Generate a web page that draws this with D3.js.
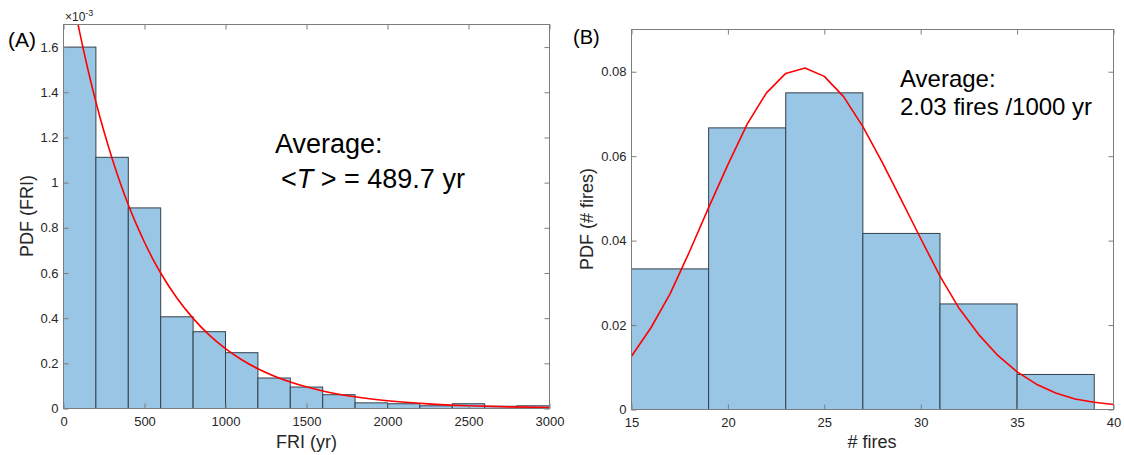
<!DOCTYPE html>
<html>
<head>
<meta charset="utf-8">
<script src="https://cdn.jsdelivr.net/npm/d3@7"></script>
<style>
  html, body { margin: 0; padding: 0; background: #fff; }
  svg { display: block; font-family: "Liberation Sans", Arial, Helvetica, sans-serif; }
</style>
</head>
<body>
<svg id="chart" width="1124" height="455"></svg>
<script>
// ---------- Panel A data: fire return interval histogram ----------
const friBinEdges = [0, 200, 400, 600, 800, 1000, 1200, 1400, 1600, 1800, 2000, 2200, 2400, 2600, 2800, 3000];
const friPdf = [0.001600, 0.001112, 0.000888, 0.000406, 0.000340, 0.000247, 0.000135, 0.000095,
                0.000061, 0.000025, 0.000021, 0.000012, 0.000021, 0.000010, 0.000012];
// red fitted curve
const friCurveT = [88, 100, 150, 200, 250, 300, 350, 400, 450, 500, 550, 600, 700, 800, 900, 1000, 1100, 1200, 1400, 1600, 1800, 2000, 2250, 2500, 2750, 3000];
const friCurveP = [0.001707, 0.001665, 0.001503, 0.001357, 0.001226, 0.001107, 0.000999, 0.000902, 0.000815,
                   0.000736, 0.000664, 0.000600, 0.000489, 0.000399, 0.000325, 0.000265, 0.000216, 0.000176,
                   0.000117, 0.0000778, 0.0000517, 0.0000344, 0.0000206, 0.0000124, 0.0000074, 0.0000045];
const friXTicks = [0, 500, 1000, 1500, 2000, 2500, 3000];
const friXTickLabels = ["0", "500", "1000", "1500", "2000", "2500", "3000"];
const friYTicks = [0, 0.0002, 0.0004, 0.0006, 0.0008, 0.0010, 0.0012, 0.0014, 0.0016];
const friYTickLabels = ["0", "0.2", "0.4", "0.6", "0.8", "1", "1.2", "1.4", "1.6"];

// ---------- Panel B data: number of fires histogram ----------
const fireBinEdges = [15, 19, 23, 27, 31, 35, 39];
const firePdf = [0.0333, 0.0667, 0.0750, 0.0417, 0.0250, 0.0083];
const fireCurveN = [15, 16, 17, 18, 19, 20, 21, 22, 23, 24, 25, 26, 27, 28, 29, 30, 31, 32, 33, 34, 35, 36, 37, 38, 39, 40];
const fireCurveP = [0.0126, 0.0193, 0.0274, 0.0373, 0.0478, 0.0580, 0.0676, 0.0750, 0.0796, 0.0809, 0.0789, 0.0741,
                    0.0670, 0.0586, 0.0496, 0.0405, 0.0316, 0.0239, 0.0178, 0.0128, 0.0089, 0.0060, 0.0039, 0.0025, 0.0017, 0.0012];
const fireXTicks = [15, 20, 25, 30, 35, 40];
const fireXTickLabels = ["15", "20", "25", "30", "35", "40"];
const fireYTicks = [0, 0.02, 0.04, 0.06, 0.08];
const fireYTickLabels = ["0", "0.02", "0.04", "0.06", "0.08"];

const svg = d3.select("#chart");
const BAR_FILL = "#9ac6e5";
const BAR_EDGE = "#33414d";
const AXIS_COL = "#7d7d7d";
const TEXT_COL = "#262626";

function panel(opts) {
  const { x, y, edges, pdf, cx, cy, xTicks, xLabels, yTicks, yLabels, clipId, curve } = opts;
  const g = svg.append("g");
  const [x0, x1] = x.range();
  const [y0, y1] = y.range(); // y0 bottom, y1 top

  g.append("clipPath").attr("id", clipId)
    .append("rect").attr("x", x0).attr("y", y1).attr("width", x1 - x0).attr("height", y0 - y1);

  // bars
  g.append("g").selectAll("rect").data(pdf).join("rect")
    .attr("x", (d, i) => x(edges[i]))
    .attr("width", (d, i) => x(edges[i + 1]) - x(edges[i]))
    .attr("y", d => y(d))
    .attr("height", d => y(0) - y(d))
    .attr("fill", BAR_FILL)
    .attr("stroke", BAR_EDGE)
    .attr("stroke-width", 1);

  // curve
  const pts = cx.map((v, i) => [v, cy[i]]);
  g.append("path").datum(pts)
    .attr("clip-path", `url(#${clipId})`)
    .attr("fill", "none").attr("stroke", "#ff0000").attr("stroke-width", 1.6)
    .attr("stroke-linejoin", "round")
    .attr("d", d3.line().curve(curve).x(d => x(d[0])).y(d => y(d[1])));

  // axes (ticks inside, box)
  const fmtX = (d) => xLabels[xTicks.indexOf(d)];
  const fmtY = (d) => yLabels[yTicks.indexOf(d)];
  const bottom = g.append("g").attr("transform", `translate(0,${y0})`)
    .call(d3.axisBottom(x).tickValues(xTicks).tickFormat(fmtX).tickSize(-5).tickPadding(8));
  const top = g.append("g").attr("transform", `translate(0,${y1})`)
    .call(d3.axisTop(x).tickValues(xTicks).tickFormat("").tickSize(-5));
  const left = g.append("g").attr("transform", `translate(${x0},0)`)
    .call(d3.axisLeft(y).tickValues(yTicks).tickFormat(fmtY).tickSize(-5).tickPadding(5));
  const right = g.append("g").attr("transform", `translate(${x1},0)`)
    .call(d3.axisRight(y).tickValues(yTicks).tickFormat("").tickSize(-5));
  [bottom, top, left, right].forEach(a => {
    a.select(".domain").remove();
    a.selectAll(".tick line").attr("stroke", AXIS_COL);
    a.selectAll(".tick text").attr("fill", TEXT_COL).attr("font-size", 13)
      .attr("font-family", '"Liberation Sans", Arial, sans-serif');
  });
  g.append("rect").attr("x", x0).attr("y", y1).attr("width", x1 - x0).attr("height", y0 - y1)
    .attr("fill", "none").attr("stroke", AXIS_COL).attr("stroke-width", 1);
  return g;
}

// ---------- Panel A ----------
const xA = d3.scaleLinear().domain([0, 3000]).range([63.5, 549.5]);
const yA = d3.scaleLinear().domain([0, 0.0017]).range([408.5, 24.5]);
panel({ x: xA, y: yA, edges: friBinEdges, pdf: friPdf, cx: friCurveT, cy: friCurveP, curve: d3.curveMonotoneX,
        xTicks: friXTicks, xLabels: friXTickLabels, yTicks: friYTicks, yLabels: friYTickLabels, clipId: "clipA" });

// ---------- Panel B ----------
const xB = d3.scaleLinear().domain([15, 40]).range([631.5, 1113.5]);
const yB = d3.scaleLinear().domain([0, 0.09]).range([409.5, 29.5]);
panel({ x: xB, y: yB, edges: fireBinEdges, pdf: firePdf, cx: fireCurveN, cy: fireCurveP, curve: d3.curveLinear,
        xTicks: fireXTicks, xLabels: fireXTickLabels, yTicks: fireYTicks, yLabels: fireYTickLabels, clipId: "clipB" });

// ---------- Texts ----------
// exponent label
const ex = svg.append("text").attr("x", 65).attr("y", 21).attr("fill", TEXT_COL).attr("font-size", 12);
ex.append("tspan").text("×10");
ex.append("tspan").attr("font-size", 9).attr("dy", -5).text("-3");

// axis labels
svg.append("text").attr("x", 306.5).attr("y", 448).attr("text-anchor", "middle")
  .attr("font-size", 18).attr("fill", TEXT_COL).text("FRI (yr)");
svg.append("text").attr("x", 872).attr("y", 448).attr("text-anchor", "middle")
  .attr("font-size", 18).attr("fill", TEXT_COL).text("# fires");
svg.append("text").attr("transform", "translate(33,216) rotate(-90)").attr("text-anchor", "middle")
  .attr("font-size", 18).attr("fill", TEXT_COL).text("PDF (FRI)");
svg.append("text").attr("transform", "translate(593,219) rotate(-90)").attr("text-anchor", "middle")
  .attr("font-size", 18).attr("fill", TEXT_COL).text("PDF (# fires)");

// panel letters
svg.append("text").attr("x", 8).attr("y", 47).attr("font-size", 21).attr("fill", "#000").text("(A)");
svg.append("text").attr("x", 573).attr("y", 44).attr("font-size", 20).attr("fill", "#000").text("(B)");

// annotations
svg.append("text").attr("x", 275).attr("y", 153).attr("font-size", 27).attr("fill", "#000").text("Average:");
const t2 = svg.append("text").attr("x", 281).attr("y", 188).attr("font-size", 27).attr("fill", "#000");
t2.append("tspan").text("<");
t2.append("tspan").attr("font-style", "italic").text("T");
t2.append("tspan").text(" > = 489.7 yr");

svg.append("text").attr("x", 900).attr("y", 87).attr("font-size", 24).attr("fill", "#000").text("Average:");
svg.append("text").attr("x", 900).attr("y", 115).attr("font-size", 24).attr("fill", "#000").text("2.03 fires /1000 yr");
</script>
</body>
</html>
